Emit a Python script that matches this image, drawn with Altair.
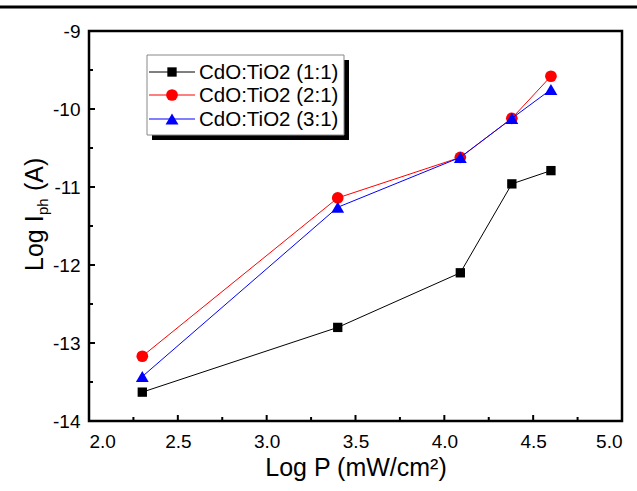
import altair as alt
import pandas as pd

# ---- data ----
x_vals = [2.30, 3.40, 4.09, 4.38, 4.60]
y_11 = [-13.63, -12.80, -12.10, -10.96, -10.79]
y_21 = [-13.17, -11.14, -10.62, -10.12, -9.58]
y_31 = [-13.43, -11.26, -10.62, -10.12, -9.75]
series = ["CdO:TiO2 (1:1)", "CdO:TiO2 (2:1)", "CdO:TiO2 (3:1)"]
colors = ["#000000", "#ff0000", "#0000ff"]
shapes = ["square", "circle", "triangle-up"]
sizes = [87, 137, 165]

x_major = [2.0, 2.5, 3.0, 3.5, 4.0, 4.5, 5.0]
x_minor = [2.25, 2.75, 3.25, 3.75, 4.25, 4.75]
y_major = [-9, -10, -11, -12, -13, -14]
y_minor = [-9.5, -10.5, -11.5, -12.5, -13.5]

W, H = 533, 390
FONT = "Liberation Sans"

xs = alt.Scale(domain=[2.0, 5.0], nice=False, zero=False)
ys = alt.Scale(domain=[-14, -9], nice=False, zero=False)

ys_list = [y_11, y_21, y_31]
layers = []

# axes carrier (labels only)
axis_df = pd.DataFrame({"x": [2.0], "y": [-14]})
axes = alt.Chart(axis_df).mark_point(opacity=0).encode(
    x=alt.X("x:Q", scale=xs, axis=alt.Axis(values=x_major, format=".1f", title="Log P (mW/cm²)",
                                           ticks=False, domain=False, grid=False, labelPadding=11,
                                           titlePadding=4)),
    y=alt.Y("y:Q", scale=ys, axis=alt.Axis(values=y_major, labelExpr="'' + datum.value", title=None,
                                           ticks=False, domain=False, grid=False, labelPadding=9)),
)
layers.append(axes)

# inward ticks
xt_major = alt.Chart(pd.DataFrame({"t": x_major})).mark_rule(color="black", strokeWidth=2).encode(
    x=alt.X("t:Q", scale=xs), y=alt.value(H), y2=alt.value(H - 6))
xt_minor = alt.Chart(pd.DataFrame({"t": x_minor})).mark_rule(color="black", strokeWidth=2).encode(
    x=alt.X("t:Q", scale=xs), y=alt.value(H), y2=alt.value(H - 4))
yt_major = alt.Chart(pd.DataFrame({"t": y_major})).mark_rule(color="black", strokeWidth=2).encode(
    y=alt.Y("t:Q", scale=ys), x=alt.value(0), x2=alt.value(6))
yt_minor = alt.Chart(pd.DataFrame({"t": y_minor})).mark_rule(color="black", strokeWidth=2).encode(
    y=alt.Y("t:Q", scale=ys), x=alt.value(0), x2=alt.value(4))
layers += [xt_major, xt_minor, yt_major, yt_minor]

# data series
for name, yv, col, shp, sz in zip(series, ys_list, colors, shapes, sizes):
    df = pd.DataFrame({"x": x_vals, "y": yv, "series": name})
    base = alt.Chart(df).encode(x=alt.X("x:Q", scale=xs), y=alt.Y("y:Q", scale=ys))
    layers.append(base.mark_line(color=col, strokeWidth=1))
    layers.append(base.mark_point(shape=shp, filled=True, color=col, size=sz, opacity=1))

# legend box with shadow
layers.append(alt.Chart(pd.DataFrame({"a": [0]})).mark_rect(fill="black").encode(
    x=alt.value(63), x2=alt.value(260), y=alt.value(29), y2=alt.value(109)))
layers.append(alt.Chart(pd.DataFrame({"a": [0]})).mark_rect(fill="white", stroke="#888888", strokeWidth=1).encode(
    x=alt.value(58), x2=alt.value(255), y=alt.value(24), y2=alt.value(104)))
row_y = [41, 64, 88]
for name, col, shp, sz, ry in zip(series, colors, shapes, sizes, row_y):
    one = pd.DataFrame({"series": [name]})
    layers.append(alt.Chart(one).mark_rule(color=col, strokeWidth=1).encode(
        x=alt.value(60), x2=alt.value(106), y=alt.value(ry)))
    layers.append(alt.Chart(one).mark_point(shape=shp, filled=True, color=col, size=sz, opacity=1).encode(
        x=alt.value(83), y=alt.value(ry)))
    layers.append(alt.Chart(one).mark_text(align="left", baseline="middle", font=FONT, fontSize=20.5,
                                           color="black").encode(
        x=alt.value(110), y=alt.value(ry + 1), text="series:N"))

# y title with subscript
ty = pd.DataFrame({"a": [0]})
tx, tyy = -46, 240
layers.append(alt.Chart(ty).mark_text(text="Log I", angle=270, align="left", baseline="alphabetic",
                                      font=FONT, fontSize=25, color="black").encode(
    x=alt.value(tx), y=alt.value(tyy)))
layers.append(alt.Chart(ty).mark_text(text="ph", angle=270, align="left", baseline="alphabetic",
                                      font=FONT, fontSize=15, color="black", dx=56, dy=5).encode(
    x=alt.value(tx), y=alt.value(tyy)))
layers.append(alt.Chart(ty).mark_text(text="(A)", angle=270, align="left", baseline="alphabetic",
                                      font=FONT, fontSize=25, color="black", dx=80).encode(
    x=alt.value(tx), y=alt.value(tyy)))

# top horizontal rule across page
layers.append(alt.Chart(pd.DataFrame({"a": [0]})).mark_rule(color="black", strokeWidth=3).encode(
    x=alt.value(-89), x2=alt.value(548), y=alt.value(-24)))

chart = alt.layer(*layers).properties(
    width=W, height=H,
    autosize=alt.AutoSizeParams(type="none"),
    padding={"left": 89, "top": 31, "right": 15, "bottom": 70},
    background="white",
).configure_view(stroke="black", strokeWidth=2.5).configure_axis(
    labelFont=FONT, labelFontSize=19, labelColor="black",
    titleFont=FONT, titleFontSize=25, titleColor="black", titleFontWeight="normal",
)

chart.save("out.html", embed_options={"renderer": "svg", "actions": False})
